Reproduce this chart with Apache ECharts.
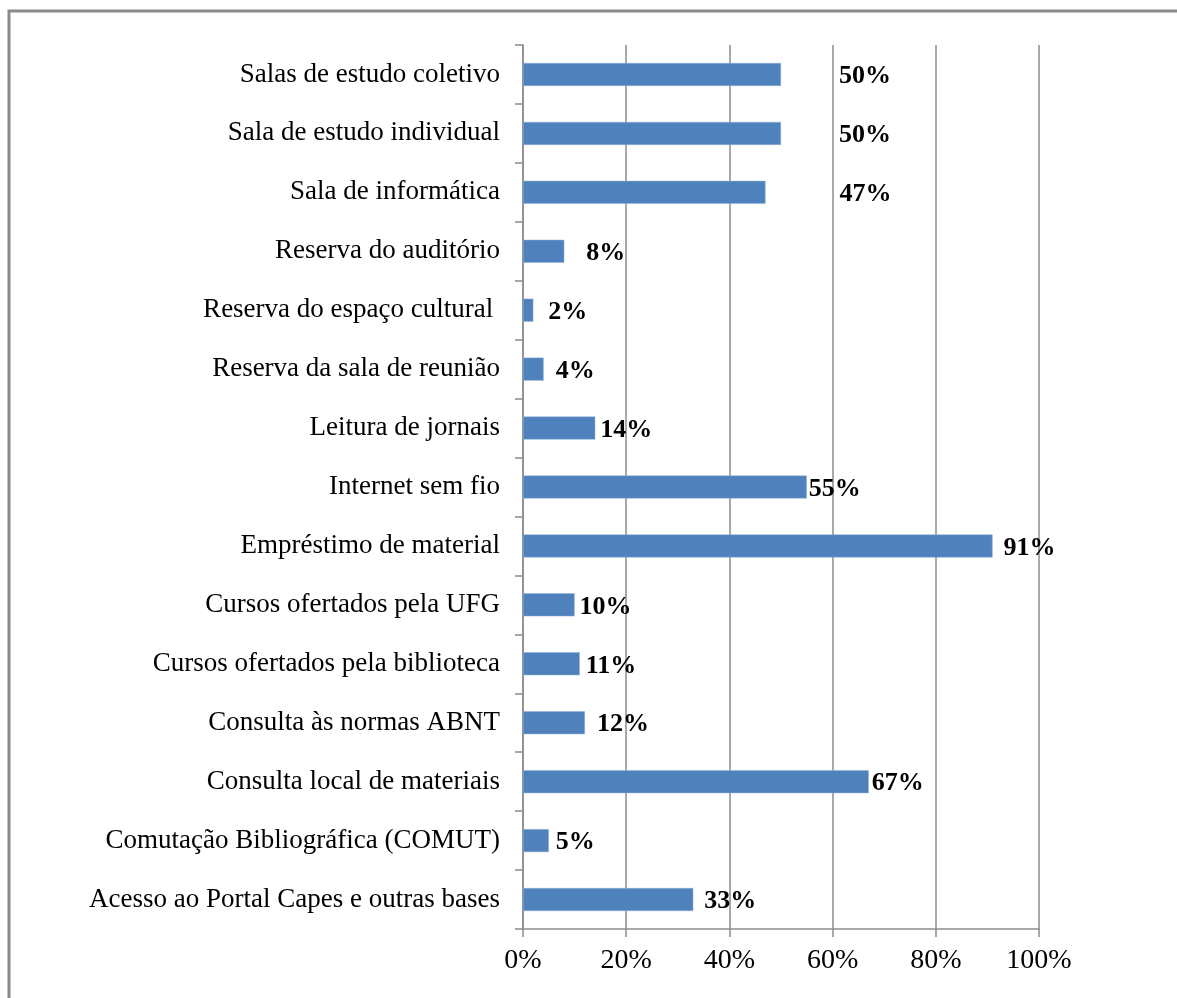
<!DOCTYPE html>
<html>
<head>
<meta charset="utf-8">
<script src="https://cdn.jsdelivr.net/npm/echarts@6/dist/echarts.min.js"></script>
<style>
  html, body { margin: 0; padding: 0; background: #fff; }
  #chart { width: 1177px; height: 998px; }
</style>
</head>
<body>
<div id="chart"></div>
<script>
// Services listed from the top row to the bottom row
const categories = [
  'Salas de estudo coletivo',
  'Sala de estudo individual',
  'Sala de informática',
  'Reserva do auditório',
  'Reserva do espaço cultural ',
  'Reserva da sala de reunião',
  'Leitura de jornais',
  'Internet sem fio',
  'Empréstimo de material',
  'Cursos ofertados pela UFG',
  'Cursos ofertados pela biblioteca',
  'Consulta às normas ABNT',
  'Consulta local de materiais',
  'Comutação Bibliográfica (COMUT)',
  'Acesso ao Portal Capes e outras bases'
];

// Share of respondents (%)
const values = [50, 50, 47, 8, 2, 4, 14, 55, 91, 10, 11, 12, 67, 5, 33];

// Axis ticks
const xTicks = [0, 20, 40, 60, 80, 100];

// Gap (px) between each bar end and its value label
const labelGap = [58, 58, 74, 22, 15, 12, 5, 2, 11, 5, 6, 12, 3, 7, 11];

const chart = echarts.init(document.getElementById('chart'), null, { renderer: 'canvas' });

const FONT = '"Liberation Serif", "Times New Roman", serif';
const AXIS_GRAY = '#8c8c8c';

chart.setOption({
  animation: false,
  backgroundColor: '#ffffff',
  textStyle: { fontFamily: FONT },
  grid: { left: 523, right: 138, top: 45, bottom: 69, containLabel: false },
  xAxis: {
    type: 'value',
    min: xTicks[0],
    max: xTicks[xTicks.length - 1],
    interval: xTicks[1] - xTicks[0],
    axisLine: { show: true, lineStyle: { color: AXIS_GRAY, width: 1.5 } },
    axisTick: { show: true, length: 8, lineStyle: { color: AXIS_GRAY, width: 1.5 } },
    splitLine: { show: true, lineStyle: { color: AXIS_GRAY, width: 1.5 } },
    axisLabel: {
      color: '#000',
      fontFamily: FONT,
      fontSize: 28,
      margin: 18,
      formatter: v => v + '%'
    }
  },
  yAxis: {
    type: 'category',
    inverse: true,
    data: categories,
    axisLine: { show: true, lineStyle: { color: AXIS_GRAY, width: 1.5 } },
    axisTick: { show: true, length: 8, alignWithLabel: false, lineStyle: { color: AXIS_GRAY, width: 1.5 } },
    splitLine: { show: false },
    axisLabel: {
      color: '#000',
      fontFamily: FONT,
      fontSize: 27,
      margin: 23
    }
  },
  graphic: [{
    type: 'polyline',
    silent: true,
    shape: { points: [[9, 998], [9, 11], [1177, 11]] },
    style: { stroke: '#8a8a8a', lineWidth: 3, fill: null }
  }],
  series: [{
    type: 'bar',
    data: values.map((v, i) => ({
      value: v,
      label: { distance: labelGap[i] }
    })),
    barCategoryGap: '61%',
    itemStyle: { color: '#4f81bd', borderColor: '#8fb0d8', borderWidth: 0.5 },
    label: {
      show: true,
      position: 'right',
      offset: [0, 2],
      color: '#000',
      fontFamily: FONT,
      fontWeight: 'bold',
      fontSize: 26,
      formatter: p => p.value + '%'
    }
  }]
});
</script>
</body>
</html>
